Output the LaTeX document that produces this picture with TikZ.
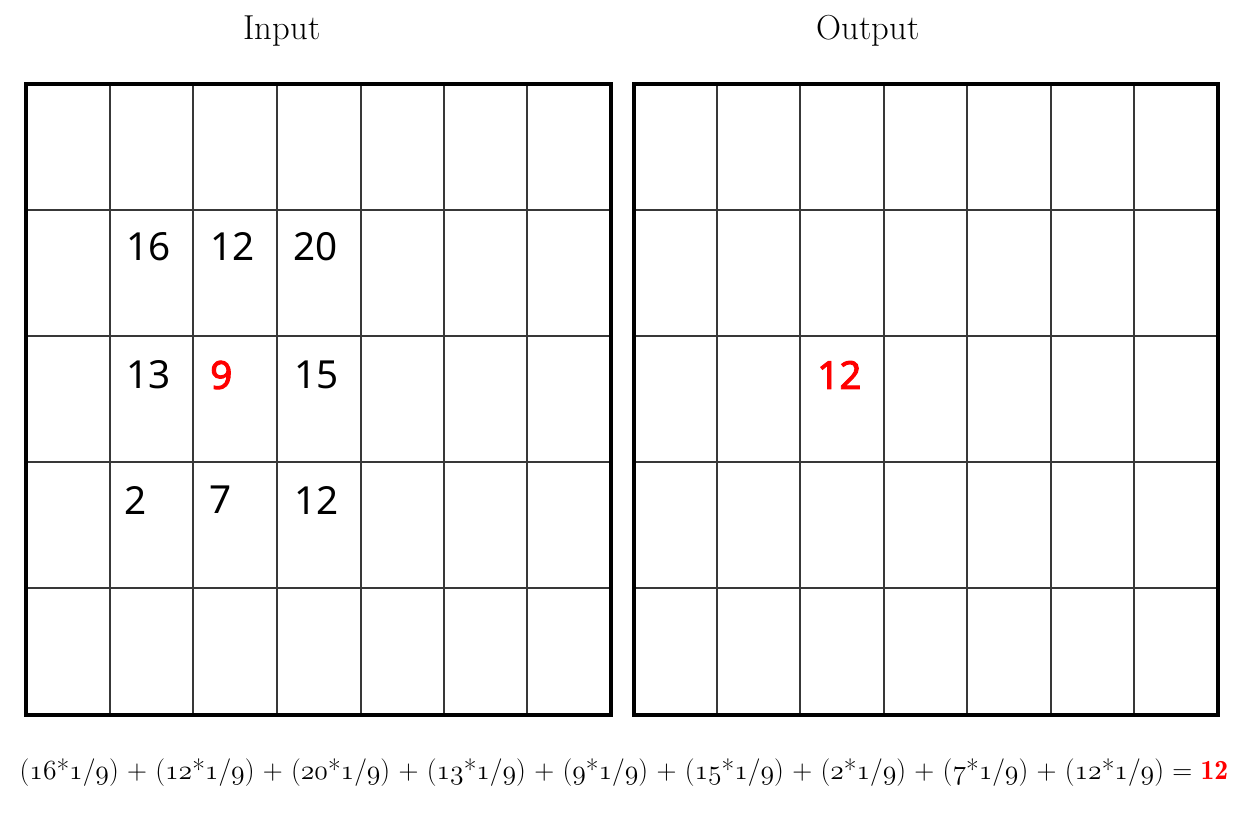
\documentclass[tikz,border=0pt]{standalone}
\usepackage{fontspec}
\newfontfamily\numfont{Noto Sans}
\newfontfamily\hotfont{Noto Sans}[FakeBold=2.5]
\newcommand\osn[1]{$\mathnormal{#1}$}
\begin{document}
\begin{tikzpicture}[x=0.75pt,y=-0.75pt,
  inner/.style={line width=1.4pt,draw=black!78},
  outer/.style={line width=2.6pt,draw=black,line cap=rect},
  lbl/.style={font=\fontsize{26}{30}\selectfont,inner sep=0pt},
  num/.style={font=\numfont\fontsize{29}{34}\selectfont,anchor=west,inner sep=0pt},
  hot/.style={anchor=west,inner sep=0pt,text=red,font=\hotfont\fontsize{29}{34}\selectfont}]
\fill[white] (0,0) rectangle (1235,813);
\useasboundingbox (0,0) rectangle (1235,813);
% left grid
\foreach \x in {110,193,277,361,444,527} \draw[inner] (\x,84) -- (\x,715);
\foreach \y in {210,336,462,588} \draw[inner] (26,\y) -- (611,\y);
\draw[outer] (26,84) rectangle (611,715);
% right grid
\foreach \x in {717,800,884,967,1051,1134} \draw[inner] (\x,84) -- (\x,715);
\foreach \y in {210,336,462,588} \draw[inner] (634,\y) -- (1218,\y);
\draw[outer] (634,84) rectangle (1218,715);
% labels
\node[lbl] (tin) at (282,31) {Input};
\node[lbl] (tout) at (868,31) {Output};
% numbers
\node[num] (a1) at (126,247) {16};
\node[num] (a2) at (210,247) {12};
\node[num] (a3) at (293,247) {20};
\node[num] (b1) at (126,375) {13};
\node[hot] (b2) at (210,375) {9};
\node[num] (b3) at (294,375) {15};
\node[num] (c1) at (124,500) {2};
\node[num] (c2) at (209,500) {7};
\node[num] (c3) at (294,500) {12};
\node[hot] (res) at (817,375) {12};
% formula
\node[inner sep=0pt,font=\fontsize{20.74}{24}\selectfont] (eq) at (624,773)
 {(\osn{16}*\osn{1}/\osn{9}) + (\osn{12}*\osn{1}/\osn{9}) + (\osn{20}*\osn{1}/\osn{9}) + (\osn{13}*\osn{1}/\osn{9}) + (\osn{9}*\osn{1}/\osn{9}) + (\osn{15}*\osn{1}/\osn{9}) + (\osn{2}*\osn{1}/\osn{9}) + (\osn{7}*\osn{1}/\osn{9}) + (\osn{12}*\osn{1}/\osn{9}) = \textcolor{red}{\bfseries\osn{\mathbf{12}}}};
\end{tikzpicture}
\end{document}
